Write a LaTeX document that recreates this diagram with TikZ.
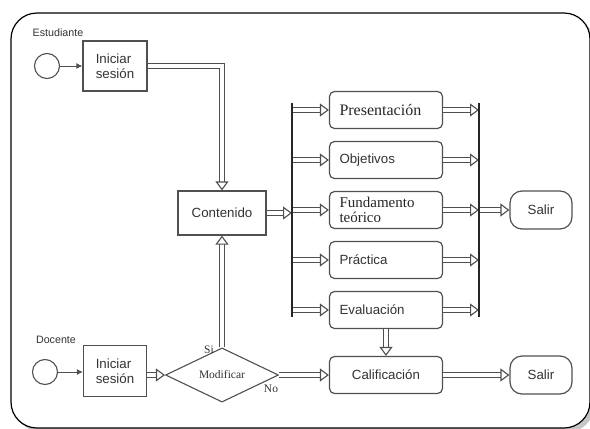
\documentclass[tikz,border=0pt]{standalone}
\usepackage{fontspec}
\setmainfont{Liberation Serif}
\setsansfont{Liberation Sans}
\usetikzlibrary{arrows.meta,shapes.geometric}
\definecolor{bord}{HTML}{505050}
\definecolor{txt}{HTML}{333333}
\begin{document}
\begin{tikzpicture}[x=1pt,y=-1pt,
  sfont/.style={font=\sffamily\fontsize{13.3}{15}\selectfont, text=txt},
  rfont/.style={font=\rmfamily\fontsize{16}{16}\selectfont, text=black!85},
  ffont/.style={font=\rmfamily\fontsize{15}{15.5}\selectfont, text=black!85},
  small/.style={font=\sffamily\fontsize{10.7}{12}\selectfont, text=txt},
  lbl/.style={font=\rmfamily\fontsize{11.5}{12}\selectfont, text=black!80},
  circ/.style={circle, draw=bord, line width=1.1pt, minimum size=25pt, inner sep=0pt},
  sbox/.style={rectangle, draw=bord, line width=1.2pt, align=left, inner sep=0pt},
  rbox/.style={rectangle, rounded corners=5pt, draw=bord, line width=1.2pt, minimum width=113pt,
     minimum height=37pt, text width=93pt, inner xsep=10pt, inner ysep=0pt, align=left},
  salir/.style={rectangle, rounded corners=12pt, draw=bord, line width=1.2pt, minimum width=62pt,
     minimum height=38pt, inner sep=0pt, sfont},
  dbl/.style={draw=bord, line width=1.1pt, double=white, double distance=4pt,
     -{Triangle[open,length=9pt,width=13pt,line width=1.1pt]}},
  sarr/.style={draw=bord, line width=1pt, -{Latex[length=6pt,width=6pt]}},
  bar/.style={draw=black!85, line width=2.6pt}
]
\useasboundingbox (0,0) rectangle (590,429);
% frame
\fill[gray!45, rounded corners=26pt] (15,17) rectangle (594,432);
\draw[line width=1.2pt, fill=white, rounded corners=26pt] (11,13) rectangle (590,428);

% student
\node[small] (est) at (58,33) {Estudiante};
\node[circ] (c1) at (47,66) {};
\node[sbox, sfont, minimum width=64pt, minimum height=50pt] (ini1) at (115,66) {Iniciar\\sesión};
\draw[sarr] (c1.east) -- (c1.east -| ini1.west);
\node[sbox, sfont, minimum width=88pt, minimum height=44pt] (cont) at (222,213) {Contenido};
\draw[dbl] (ini1.east) -| (cont.north);

% content boxes
\node[rbox, rfont] (pres) at (386,110) {Presentación};
\node[rbox, sfont] (obj) at (386,160) {Objetivos};
\node[rbox, ffont] (fund) at (386,210) {Fundamento\\teórico};
\node[rbox, sfont] (prac) at (386,260) {Práctica};
\node[rbox, sfont] (eval) at (386,310) {Evaluación};
\node[rbox, sfont, align=center] (cal) at (386,375) {Calificación};
\node[salir] (sal1) at (541,210) {Salir};
\node[salir] (sal2) at (541,375) {Salir};

\coordinate (lT) at (292,103);
\coordinate (lB) at (292,317);
\coordinate (rT) at (479,103);
\coordinate (rB) at (479,317);

\foreach \n in {pres,obj,fund,prac,eval}{
  \draw[dbl] (lT |- \n.west) -- (\n.west);
  \draw[dbl] (\n.east) -- (rT |- \n.east);
}
\draw[dbl] (cont.east) -- (lT |- cont.east);
\draw[dbl] (rT |- sal1.west) -- (sal1.west);
\draw[dbl] (eval.south) -- (cal.north);
\draw[dbl] (cal.east) -- (sal2.west);
\draw[bar] (lT) -- (lB);
\draw[bar] (rT) -- (rB);

% teacher
\node[small] (doc) at (56,340) {Docente};
\node[circ] (c2) at (45,372) {};
\node[sbox, sfont, minimum width=63pt, minimum height=51pt] (ini2) at (115,371) {Iniciar\\sesión};
\draw[sarr] (c2.east) -- (c2.east -| ini2.west);
\node[diamond, draw=bord, line width=1.1pt, minimum width=113pt, minimum height=37pt, inner sep=0pt,
  lbl] (mod) at (222,375) {Modificar};
\draw[dbl] (ini2.east |- mod.west) -- (mod.west);
\draw[dbl] (mod.north) -- (cont.south);
\draw[dbl] (mod.east) -- (cal.west);
\node[lbl] (si) at (209,350) {Si};
\node[lbl] (no) at (271,389) {No};
\end{tikzpicture}
\end{document}
